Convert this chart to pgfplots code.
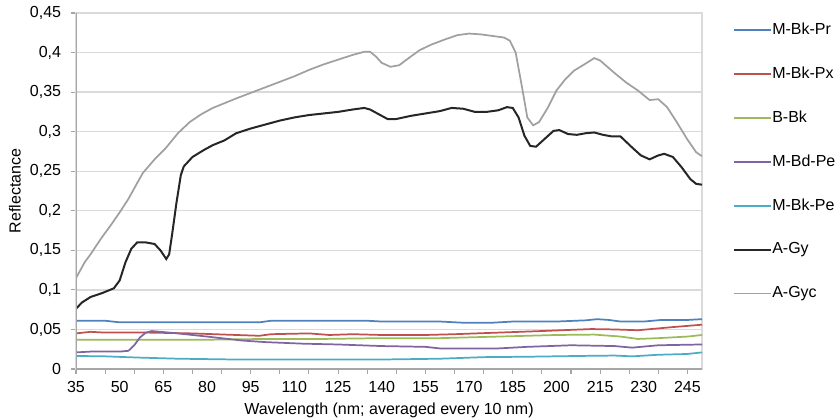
\documentclass[border=0pt]{standalone}
\usepackage{fontspec}
\setmainfont{Liberation Sans}
\usepackage{pgfplots}
\pgfplotsset{compat=1.18}
\definecolor{cB}{HTML}{4F81BD}
\definecolor{cR}{HTML}{C0504D}
\definecolor{cG}{HTML}{9BBB59}
\definecolor{cP}{HTML}{8064A2}
\definecolor{cC}{HTML}{4BACC6}
\definecolor{cK}{HTML}{262626}
\definecolor{cY}{HTML}{A0A0A0}
\definecolor{gridc}{HTML}{DADADA}
\definecolor{axc}{HTML}{A6A6A6}
\begin{document}
\fontsize{12}{14}\selectfont
\begin{tikzpicture}
\begin{axis}[
  scale only axis, width=469.5pt, height=267pt,
  xmin=35, xmax=250, ymin=0, ymax=0.45,
  /pgf/number format/assume math mode=true,
  axis line style={draw=gridc, line width=1pt},
  xtick={35,45,...,245}, xticklabels={},
  extra x ticks={35,50,...,245},
  extra x tick labels={35,50,65,80,95,110,125,140,155,170,185,200,215,230,245},
  extra x tick style={major tick length=0pt, xticklabel style={yshift=-5pt}},
  ytick={0,0.05,0.1,0.15,0.2,0.25,0.3,0.35,0.4,0.45},
  yticklabel style={/pgf/number format/fixed, /pgf/number format/precision=2, /pgf/number format/use comma, xshift=-3.5pt},
  xtick pos=left, ytick pos=left, tick align=outside,
  major tick length=3.5pt,
  tick style={draw=axc, line width=0.8pt},
  ymajorgrids, grid style={draw=gridc, line width=1pt},
  xlabel={Wavelength (nm; averaged every 10 nm)},
  ylabel={Reflectance},
  every axis x label/.style={at={(axis description cs:0.5,0)}, anchor=center, yshift=-30.75pt},
  every axis y label/.style={at={(axis description cs:0,0.5)}, anchor=center, rotate=90, yshift=45.75pt},
  legend cell align=left,
  legend image code/.code={\draw[#1] (0pt,0pt) -- (27.75pt,0pt);},
  legend style={at={(rel axis cs:1,1)}, anchor=north west, xshift=23.25pt, yshift=-7pt,
    draw=none, fill=none, inner sep=0pt, row sep=21.4pt,
    nodes={inner sep=0pt, text height=9pt, text depth=2.5pt},
    /tikz/every even column/.append style={column sep=2pt},
    font=\fontsize{12}{14}\selectfont},
]
\addplot[cB, line width=1.3pt] coordinates {(35,0.061)(45,0.061)(50,0.059)(60,0.059)(75,0.059)(90,0.059)(98,0.059)(102,0.061)(120,0.061)(135,0.061)(140,0.060)(160,0.060)(168,0.0585)(178,0.0585)(185,0.060)(200,0.060)(210,0.0615)(214,0.063)(218,0.062)(222,0.060)(230,0.060)(236,0.062)(245,0.062)(250,0.063)};
\addlegendentry{M-Bk-Pr}
\addplot[cR, line width=1.3pt] coordinates {(35,0.045)(40,0.047)(45,0.046)(60,0.046)(75,0.045)(90,0.043)(98,0.042)(102,0.044)(115,0.045)(122,0.043)(130,0.044)(140,0.043)(155,0.043)(165,0.044)(180,0.046)(195,0.048)(212,0.0505)(220,0.050)(228,0.049)(240,0.053)(250,0.056)};
\addlegendentry{M-Bk-Px}
\addplot[cG, line width=1.3pt] coordinates {(35,0.037)(60,0.037)(80,0.037)(100,0.038)(120,0.038)(140,0.039)(160,0.039)(170,0.040)(185,0.0415)(200,0.043)(213,0.0435)(222,0.041)(228,0.038)(235,0.039)(245,0.041)(250,0.043)};
\addlegendentry{B-Bk}
\addplot[cP, line width=1.3pt] coordinates {(35,0.021)(40,0.022)(45,0.022)(50,0.022)(53,0.023)(55,0.030)(57,0.040)(59,0.046)(61,0.048)(64,0.047)(70,0.045)(80,0.041)(92,0.036)(100,0.034)(113,0.032)(125,0.031)(140,0.029)(155,0.028)(160,0.026)(180,0.026)(190,0.028)(205,0.030)(220,0.029)(226,0.027)(235,0.030)(250,0.031)};
\addlegendentry{M-Bd-Pe}
\addplot[cC, line width=1.3pt] coordinates {(35,0.0165)(45,0.016)(56,0.0145)(70,0.013)(90,0.012)(110,0.012)(140,0.012)(160,0.013)(175,0.015)(190,0.0155)(208,0.0165)(220,0.017)(226,0.016)(235,0.018)(245,0.019)(250,0.021)};
\addlegendentry{M-Bk-Pe}
\addplot[cK, line width=1.5pt] coordinates {(35,0.076)(37,0.084)(40,0.091)(44,0.096)(48,0.102)(50,0.112)(52,0.135)(54,0.152)(56,0.160)(59,0.160)(62,0.158)(64,0.150)(66,0.139)(67,0.145)(68,0.170)(69.5,0.21)(71,0.245)(72,0.256)(75,0.268)(79,0.277)(82,0.283)(86,0.289)(90,0.298)(95,0.304)(100,0.309)(105,0.314)(110,0.318)(115,0.321)(120,0.323)(125,0.325)(130,0.328)(134,0.330)(136,0.328)(139,0.322)(142,0.316)(145,0.316)(150,0.320)(155,0.323)(160,0.326)(164,0.330)(168,0.329)(172,0.325)(176,0.325)(180,0.327)(183,0.331)(185,0.330)(187,0.318)(189,0.295)(191,0.282)(193,0.281)(196,0.291)(199,0.301)(201,0.302)(204,0.297)(207,0.296)(210,0.298)(213,0.299)(216,0.296)(219,0.294)(222,0.294)(226,0.280)(229,0.270)(232,0.265)(235,0.270)(237,0.272)(240,0.268)(243,0.255)(246,0.240)(248,0.234)(250,0.233)};
\addlegendentry{A-Gy}
\addplot[cY, line width=1.3pt] coordinates {(35,0.115)(38,0.135)(40,0.145)(44,0.167)(47,0.182)(50,0.198)(53,0.215)(56,0.235)(58,0.248)(62,0.265)(66,0.280)(70,0.298)(74,0.312)(78,0.322)(82,0.330)(86,0.336)(90,0.342)(95,0.349)(100,0.356)(105,0.363)(110,0.370)(115,0.378)(120,0.385)(125,0.391)(130,0.397)(134,0.401)(136,0.401)(138,0.395)(140,0.387)(143,0.382)(146,0.384)(150,0.395)(153,0.403)(157,0.410)(162,0.417)(166,0.422)(170,0.424)(174,0.423)(178,0.421)(182,0.419)(184,0.415)(186,0.400)(188,0.360)(190,0.318)(192,0.308)(194,0.312)(197,0.330)(200,0.352)(203,0.366)(206,0.377)(210,0.386)(213,0.393)(215,0.390)(220,0.374)(224,0.362)(228,0.352)(232,0.340)(235,0.341)(238,0.331)(241,0.314)(245,0.290)(248,0.274)(250,0.269)};
\addlegendentry{A-Gyc}
\draw[axc, line width=1.5pt] (rel axis cs:0,1) -- (rel axis cs:0,0) -- (rel axis cs:1,0);
\end{axis}
\pgfresetboundingbox
\path (-57pt,-36.75pt) rectangle (571.5pt,276.75pt);
\end{tikzpicture}
\end{document}
